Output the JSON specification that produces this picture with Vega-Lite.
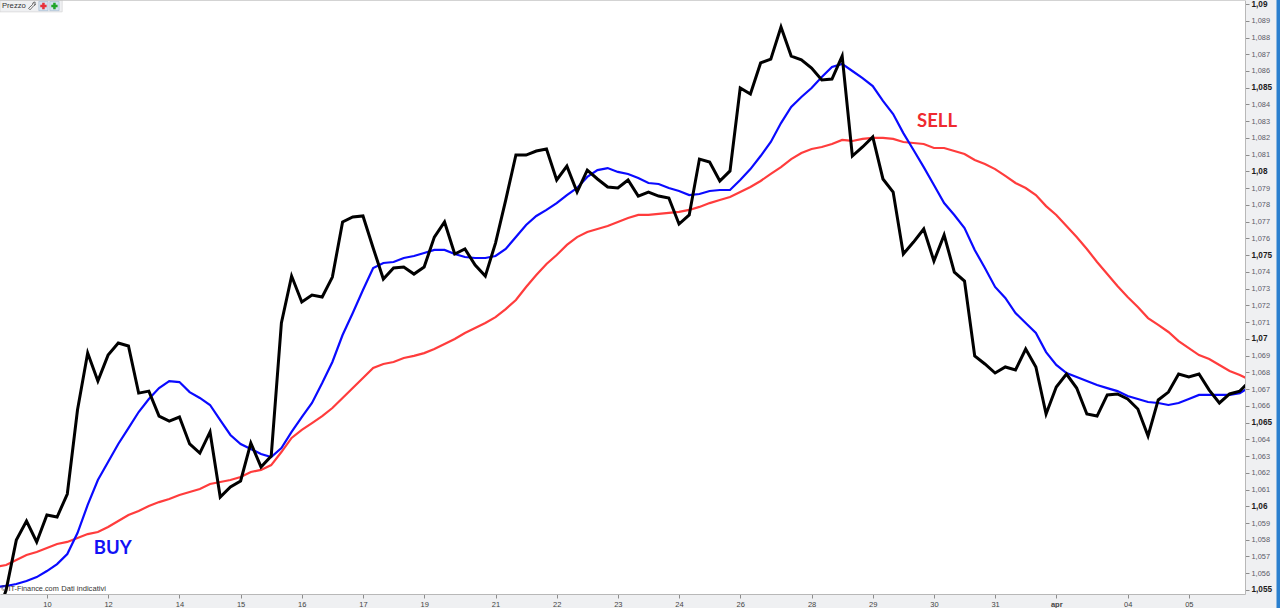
{"$schema":"https://vega.github.io/schema/vega-lite/v6.json","width":1245,"height":594,"autosize":"none","padding":{"left":0,"top":0,"right":35,"bottom":14},"background":"#eff0f2","view":{"fill":"#ffffff","stroke":null},"config":{"view":{"stroke":null},"font":"Liberation Sans"},
"datasets":{"series":[
{"i":-1,"price":1.05321,"fast":1.05518,"slow":1.05637},{"i":0,"price":1.055,"fast":1.05524,"slow":1.05649},{"i":1,"price":1.05798,"fast":1.05536,"slow":1.05679},{"i":2,"price":1.05912,"fast":1.05554,"slow":1.05709},{"i":3,"price":1.05787,"fast":1.05577,"slow":1.05727},{"i":4,"price":1.05948,"fast":1.05613,"slow":1.05751},{"i":5,"price":1.05936,"fast":1.05655,"slow":1.05775},{"i":6,"price":1.06073,"fast":1.05715,"slow":1.05787},{"i":7,"price":1.06575,"fast":1.0584,"slow":1.0581},{"i":8,"price":1.06915,"fast":1.06008,"slow":1.05834},{"i":9,"price":1.06748,"fast":1.06157,"slow":1.05846},
{"i":10,"price":1.06903,"fast":1.06264,"slow":1.05876},{"i":11,"price":1.06975,"fast":1.06372,"slow":1.05912},{"i":12,"price":1.06957,"fast":1.06467,"slow":1.05948},{"i":13,"price":1.06676,"fast":1.06563,"slow":1.05972},{"i":14,"price":1.06688,"fast":1.06641,"slow":1.06002},{"i":15,"price":1.06539,"fast":1.06706,"slow":1.06025},{"i":16,"price":1.06509,"fast":1.06748,"slow":1.06043},{"i":17,"price":1.06533,"fast":1.06742,"slow":1.06067},{"i":18,"price":1.06372,"fast":1.06682,"slow":1.06085},{"i":19,"price":1.06318,"fast":1.06647,"slow":1.06103},
{"i":20,"price":1.06444,"fast":1.06605,"slow":1.06133},{"i":21,"price":1.06055,"fast":1.06515,"slow":1.06145},{"i":22,"price":1.06115,"fast":1.06426,"slow":1.06157},{"i":23,"price":1.06151,"fast":1.06372,"slow":1.06175},{"i":24,"price":1.06378,"fast":1.06342,"slow":1.06205},{"i":25,"price":1.06235,"fast":1.06312,"slow":1.06217},{"i":26,"price":1.063,"fast":1.06294,"slow":1.06246},{"i":27,"price":1.07095,"fast":1.06348,"slow":1.06324},{"i":28,"price":1.07375,"fast":1.06444,"slow":1.06408},{"i":29,"price":1.0722,"fast":1.06533,"slow":1.06456},
{"i":30,"price":1.07262,"fast":1.06617,"slow":1.06497},{"i":31,"price":1.0725,"fast":1.06736,"slow":1.06539},{"i":32,"price":1.07369,"fast":1.06862,"slow":1.06587},{"i":33,"price":1.07698,"fast":1.07023,"slow":1.06647},{"i":34,"price":1.07728,"fast":1.07154,"slow":1.06706},{"i":35,"price":1.07734,"fast":1.07292,"slow":1.06766},{"i":36,"price":1.07543,"fast":1.07423,"slow":1.06826},{"i":37,"price":1.07357,"fast":1.07453,"slow":1.0685},{"i":38,"price":1.07423,"fast":1.07459,"slow":1.06862},{"i":39,"price":1.07429,"fast":1.07483,"slow":1.06886},
{"i":40,"price":1.07387,"fast":1.07495,"slow":1.06898},{"i":41,"price":1.07429,"fast":1.07513,"slow":1.06915},{"i":42,"price":1.07608,"fast":1.07531,"slow":1.06939},{"i":43,"price":1.07698,"fast":1.07531,"slow":1.06969},{"i":44,"price":1.07507,"fast":1.07507,"slow":1.06999},{"i":45,"price":1.07537,"fast":1.07489,"slow":1.07035},{"i":46,"price":1.07441,"fast":1.07483,"slow":1.07065},{"i":47,"price":1.07375,"fast":1.07483,"slow":1.07095},{"i":48,"price":1.07572,"fast":1.07495,"slow":1.0713},{"i":49,"price":1.07829,"fast":1.07537,"slow":1.07178},
{"i":50,"price":1.08098,"fast":1.07608,"slow":1.07232},{"i":51,"price":1.08098,"fast":1.0768,"slow":1.0731},{"i":52,"price":1.08122,"fast":1.07734,"slow":1.07381},{"i":53,"price":1.08134,"fast":1.0777,"slow":1.07447},{"i":54,"price":1.07949,"fast":1.07811,"slow":1.07501},{"i":55,"price":1.08032,"fast":1.07859,"slow":1.07561},{"i":56,"price":1.07877,"fast":1.07901,"slow":1.07608},{"i":57,"price":1.08008,"fast":1.07967,"slow":1.07638},{"i":58,"price":1.07955,"fast":1.08008,"slow":1.07656},{"i":59,"price":1.07907,"fast":1.0802,"slow":1.07674},
{"i":60,"price":1.07901,"fast":1.07997,"slow":1.07698},{"i":61,"price":1.07949,"fast":1.07985,"slow":1.07722},{"i":62,"price":1.07853,"fast":1.07961,"slow":1.0774},{"i":63,"price":1.07877,"fast":1.07931,"slow":1.0774},{"i":64,"price":1.07853,"fast":1.07925,"slow":1.07746},{"i":65,"price":1.07841,"fast":1.07901,"slow":1.07752},{"i":66,"price":1.07686,"fast":1.07883,"slow":1.07758},{"i":67,"price":1.0774,"fast":1.07859,"slow":1.0777},{"i":68,"price":1.08074,"fast":1.07865,"slow":1.07788},{"i":69,"price":1.08056,"fast":1.07883,"slow":1.07811},
{"i":70,"price":1.07943,"fast":1.07889,"slow":1.07829},{"i":71,"price":1.08003,"fast":1.07889,"slow":1.07847},{"i":72,"price":1.08498,"fast":1.07949,"slow":1.07877},{"i":73,"price":1.08462,"fast":1.08014,"slow":1.07907},{"i":74,"price":1.08648,"fast":1.08092,"slow":1.07943},{"i":75,"price":1.08671,"fast":1.08176,"slow":1.07985},{"i":76,"price":1.08863,"fast":1.08289,"slow":1.08026},{"i":77,"price":1.08689,"fast":1.08385,"slow":1.08074},{"i":78,"price":1.08666,"fast":1.08445,"slow":1.0811},{"i":79,"price":1.08618,"fast":1.08498,"slow":1.08134},
{"i":80,"price":1.08546,"fast":1.08564,"slow":1.08146},{"i":81,"price":1.08552,"fast":1.08624,"slow":1.08164},{"i":82,"price":1.08689,"fast":1.08642,"slow":1.08188},{"i":83,"price":1.08092,"fast":1.086,"slow":1.08182},{"i":84,"price":1.08146,"fast":1.08558,"slow":1.08194},{"i":85,"price":1.08206,"fast":1.0851,"slow":1.082},{"i":86,"price":1.07955,"fast":1.08421,"slow":1.082},{"i":87,"price":1.07877,"fast":1.08343,"slow":1.08194},{"i":88,"price":1.07507,"fast":1.08229,"slow":1.08176},{"i":89,"price":1.07578,"fast":1.08128,"slow":1.0817},
{"i":90,"price":1.07656,"fast":1.08026,"slow":1.08164},{"i":91,"price":1.07465,"fast":1.07919,"slow":1.0814},{"i":92,"price":1.0762,"fast":1.07811,"slow":1.0814},{"i":93,"price":1.07399,"fast":1.0774,"slow":1.08122},{"i":94,"price":1.07345,"fast":1.07662,"slow":1.08104},{"i":95,"price":1.06898,"fast":1.07531,"slow":1.08068},{"i":96,"price":1.0685,"fast":1.07423,"slow":1.08044},{"i":97,"price":1.06796,"fast":1.0731,"slow":1.08014},{"i":98,"price":1.06832,"fast":1.07244,"slow":1.07973},{"i":99,"price":1.06814,"fast":1.07154,"slow":1.07931},
{"i":100,"price":1.06939,"fast":1.07095,"slow":1.07901},{"i":101,"price":1.06832,"fast":1.07035,"slow":1.07859},{"i":102,"price":1.06551,"fast":1.06921,"slow":1.07793},{"i":103,"price":1.06712,"fast":1.06844,"slow":1.0774},{"i":104,"price":1.0679,"fast":1.06796,"slow":1.07674},{"i":105,"price":1.06706,"fast":1.06772,"slow":1.07608},{"i":106,"price":1.06551,"fast":1.06748,"slow":1.07537},{"i":107,"price":1.06539,"fast":1.06724,"slow":1.07459},{"i":108,"price":1.06665,"fast":1.06706,"slow":1.07387},{"i":109,"price":1.06671,"fast":1.06688,"slow":1.07316},
{"i":110,"price":1.06641,"fast":1.06659,"slow":1.0725},{"i":111,"price":1.06581,"fast":1.06641,"slow":1.0719},{"i":112,"price":1.0642,"fast":1.06623,"slow":1.07124},{"i":113,"price":1.06635,"fast":1.06617,"slow":1.07083},{"i":114,"price":1.06682,"fast":1.06605,"slow":1.07041},{"i":115,"price":1.0679,"fast":1.06617,"slow":1.06987},{"i":116,"price":1.06772,"fast":1.06641,"slow":1.06945},{"i":117,"price":1.0679,"fast":1.06665,"slow":1.06903},{"i":118,"price":1.06694,"fast":1.06665,"slow":1.0688},{"i":119,"price":1.06617,"fast":1.06665,"slow":1.06844},
{"i":120,"price":1.06671,"fast":1.06665,"slow":1.06808},{"i":121,"price":1.06688,"fast":1.06676,"slow":1.06784},{"i":122,"price":1.06748,"fast":1.06712,"slow":1.06754}
],
"notes":[
{"i":10.45,"v":1.05751,"t":"BUY","c":"#1212f5"},
{"i":91.3,"v":1.08301,"t":"SELL","c":"#ef2a30"}
]},
"layer":[
{"data":{"values":[{"a":-0.6,"b":5.5,"y1":1.09024,"y2":1.08953}]},"mark":{"type":"rect","fill":"#eff0f2","stroke":"#d6d6d6","strokeWidth":0.7},"encoding":{"x":{"field":"a","type":"quantitative","scale":{"domain":[-0.6,121.51],"nice":false,"zero":false},"title":null,"axis":{"orient":"bottom","values":[4,10,17,23,29,35,41,48,54,60,66,72,79,85,91,97,103,110,116],"tickCount":40,"labelExpr":"['10','12','14','15','16','17','19','21','22','23','24','26','28','29','30','31','apr','04','05'][indexof([4,10,17,23,29,35,41,48,54,60,66,72,79,85,91,97,103,110,116],datum.value)]","grid":false,"tickSize":4,"tickColor":"#8c8c8c","domainColor":"#b8b8b8","labelFontSize":7.5,"labelColor":"#444444","labelPadding":2,"labelFontWeight":{"condition":{"test":"datum.value==103","value":"bold"},"value":"normal"},"labelBaseline":"top","labelOverlap":false}},"x2":{"field":"b"},"y":{"field":"y1","type":"quantitative","scale":{"domain":[1.05476,1.09024],"nice":false,"zero":false},"title":null,"axis":{"orient":"right","values":[1.055,1.056,1.057,1.058,1.059,1.06,1.061,1.062,1.063,1.064,1.065,1.066,1.067,1.068,1.069,1.07,1.071,1.072,1.073,1.074,1.075,1.076,1.077,1.078,1.079,1.08,1.081,1.082,1.083,1.084,1.085,1.086,1.087,1.088,1.089,1.09],"tickCount":40,"labelExpr":"replace(format(datum.value,'.3~f'),'.',',')","grid":false,"tickSize":4,"tickColor":"#8c8c8c","domainColor":"#b8b8b8","labelPadding":2,"labelOverlap":false,"labelFontSize":{"condition":{"test":"round(datum.value*1000)%5==0","value":8.2},"value":7.4},"labelFontWeight":{"condition":{"test":"round(datum.value*1000)%5==0","value":"bold"},"value":"normal"},"labelColor":{"condition":{"test":"round(datum.value*1000)%5==0","value":"#1c1c1c"},"value":"#5a5a66"}}},"y2":{"field":"y2"}}},
{"data":{"values":[{"a":-0.6,"b":121.51,"v":1.09024}]},"mark":{"type":"rule","stroke":"#c4c4c4","strokeWidth":1.5},"encoding":{"x":{"field":"a","type":"quantitative"},"x2":{"field":"b"},"y":{"field":"v","type":"quantitative"}}},
{"data":{"values":[{"a":124.6,"b":125.1,"y1":1.09024,"y2":1.0538}]},"mark":{"type":"rect","fill":"#2b80cf","clip":false},"encoding":{"x":{"field":"a","type":"quantitative"},"x2":{"field":"b"},"y":{"field":"y1","type":"quantitative"},"y2":{"field":"y2"}}},
{"data":{"name":"series"},"mark":{"type":"line","stroke":"#ff3c3c","strokeWidth":2.2,"clip":true},"encoding":{"x":{"field":"i","type":"quantitative"},"y":{"field":"slow","type":"quantitative"},"order":{"field":"i"}}},
{"data":{"name":"series"},"mark":{"type":"line","stroke":"#0a0aff","strokeWidth":2.2,"clip":true},"encoding":{"x":{"field":"i","type":"quantitative"},"y":{"field":"fast","type":"quantitative"},"order":{"field":"i"}}},
{"data":{"name":"series"},"mark":{"type":"line","stroke":"#000000","strokeWidth":3,"strokeJoin":"miter","clip":true},"encoding":{"x":{"field":"i","type":"quantitative"},"y":{"field":"price","type":"quantitative"},"order":{"field":"i"}}},
{"data":{"name":"notes"},"mark":{"type":"text","font":"Lato","fontWeight":"bold","fontSize":18.5,"align":"center","baseline":"middle"},"encoding":{"x":{"field":"i","type":"quantitative"},"y":{"field":"v","type":"quantitative"},"text":{"field":"t"},"color":{"field":"c","type":"nominal","scale":null}}},
{"data":{"values":[{"i":-0.41,"v":1.08988,"t":"Prezzo","s":"normal","z":7.7},{"i":-0.5,"v":1.05505,"t":"© IT-Finance.com","s":"normal","z":7.3},{"i":5.4,"v":1.05505,"t":"Dati indicativi","s":"italic","z":7.6}]},"mark":{"type":"text","align":"left","baseline":"middle","color":"#333333"},"encoding":{"x":{"field":"i","type":"quantitative"},"y":{"field":"v","type":"quantitative"},"text":{"field":"t"},"fontStyle":{"field":"s","type":"nominal","scale":null},"size":{"field":"z","type":"quantitative","scale":null}}},
{"data":{"values":[{"i":3.66,"v":1.08988},{"i":4.74,"v":1.08988}]},"mark":{"type":"square","size":85,"fill":"#d5e2ef","stroke":"#a9bfd4","strokeWidth":0.7,"opacity":1},"encoding":{"x":{"field":"i","type":"quantitative"},"y":{"field":"v","type":"quantitative"}}},
{"data":{"values":[{"i":3.66,"v":1.08988,"c":"#e8303a"},{"i":4.74,"v":1.08988,"c":"#1fa52a"}]},"mark":{"type":"point","shape":"cross","size":40,"filled":true,"opacity":1},"encoding":{"x":{"field":"i","type":"quantitative"},"y":{"field":"v","type":"quantitative"},"color":{"field":"c","type":"nominal","scale":null}}},
{"data":{"values":[{"i":2.53,"v":1.08988}]},"mark":{"type":"point","shape":"M0.9 -1 A0.5 0.5 0 0 0 0.2 -0.4 L-0.9 0.6 L-0.5 1 L0.5 -0.1 A0.5 0.5 0 0 0 1 -0.6 L0.7 -0.4 L0.5 -0.6 Z","size":55,"fill":"#ffffff","stroke":"#444444","strokeWidth":0.8,"opacity":1},"encoding":{"x":{"field":"i","type":"quantitative"},"y":{"field":"v","type":"quantitative"}}}
],
"resolve":{"scale":{"x":"shared","y":"shared"}}}
